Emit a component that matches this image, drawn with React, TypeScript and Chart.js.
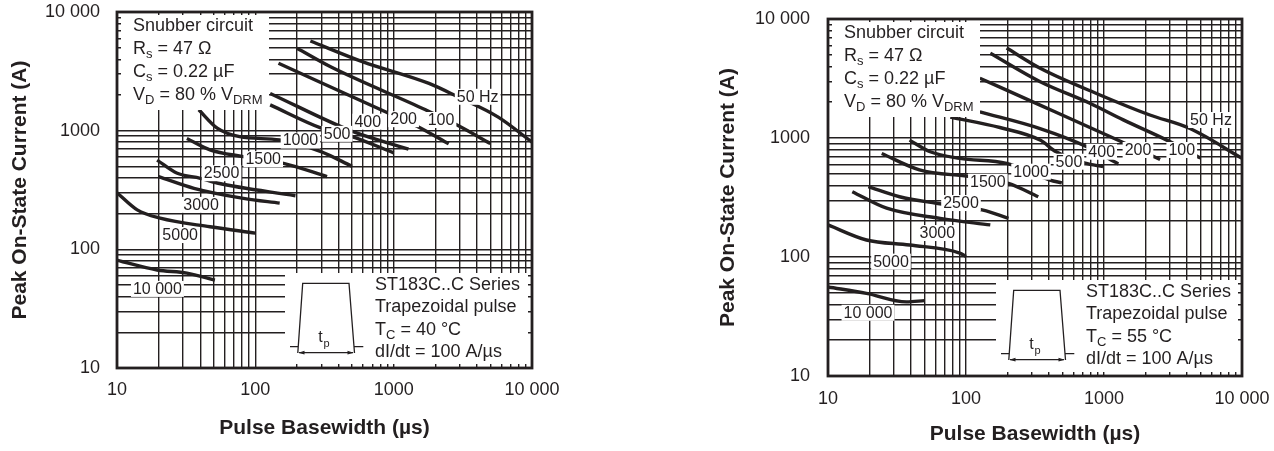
import React, { useEffect, useRef } from 'react';
import { Chart, registerables } from 'chart.js';

Chart.register(...registerables);

const FONT = '"Liberation Sans", Arial, Helvetica, sans-serif';
const INK = '#231f20';
const CANVAS_W = 637;
const CANVAS_H = 451;

// ---- axis ticks (log grid) ----
const gridTickValues = [
  10, 20, 30, 40, 50, 60, 70, 80, 90,
  100, 200, 300, 400, 500, 600, 700, 800, 900,
  1000, 2000, 3000, 4000, 5000, 6000, 7000, 8000, 9000,
  10000,
];
const labelledTickValues = [10, 100, 1000, 10000];
const labelledTickText = ['10', '100', '1000', '10 000'];

// ---- curve names (repetition frequency) ----
const curveNames = ['50 Hz', '100', '200', '400', '500', '1000', '1500', '2500', '3000', '5000', '10 000'];

// ---- TC = 40 °C : [pulse basewidth µs, peak current A] ----
const tc40_f50: [number, number][] = [[250, 5700], [600, 3800], [1800, 2500], [2850, 1950], [5700, 1300], [10000, 800]];
const tc40_f100: [number, number][] = [[200, 4950], [350, 3450], [1700, 1500], [2850, 1120], [5000, 780]];
const tc40_f200: [number, number][] = [[147, 3700], [920, 1400], [1500, 1080], [2500, 775]];
const tc40_f400: [number, number][] = [[128, 2060], [510, 980], [1280, 700]];
const tc40_f500: [number, number][] = [[128, 1650], [300, 1050], [500, 890], [1000, 650]];
const tc40_f1000: [number, number][] = [[39, 1500], [53, 1050], [77, 890], [150, 835], [295, 670], [500, 500]];
const tc40_f1500: [number, number][] = [[32, 860], [47, 690], [82, 605], [160, 530], [330, 410]];
const tc40_f2500: [number, number][] = [[19.5, 565], [27, 440], [40, 397], [53, 362], [195, 283]];
const tc40_f3000: [number, number][] = [[20, 410], [36, 327], [82, 269], [150, 245]];
const tc40_f5000: [number, number][] = [[10, 300], [14, 215], [20.5, 183], [47, 155], [100, 137]];
const tc40_f10000: [number, number][] = [[10, 81], [19.5, 67], [32, 63], [51, 55]];

// label anchors (data coordinates) for TC = 40 °C
const tc40LabelAt: [number, number][] = [
  [4050, 1930], [2200, 1230], [1180, 1250], [650, 1190], [390, 940], [212, 826],
  [114, 575], [57, 438], [40.5, 237], [28.6, 132], [19.6, 46.4],
];

// ---- TC = 55 °C ----
const tc55_f50: [number, number][] = [[197, 5700], [345, 3850], [935, 2300], [2150, 1560], [4200, 1200], [10000, 675]];
const tc55_f100: [number, number][] = [[150, 5150], [345, 2970], [790, 1960], [1380, 1420], [2850, 960], [5000, 680]];
const tc55_f200: [number, number][] = [[126, 3180], [344, 1890], [1340, 930], [2550, 660]];
const tc55_f400: [number, number][] = [[126, 1660], [344, 1200], [750, 845], [1270, 605]];
const tc55_f500: [number, number][] = [[77, 1500], [176, 1225], [344, 960], [450, 765], [730, 615], [985, 575]];
const tc55_f1000: [number, number][] = [[39, 960], [55, 767], [90, 675], [197, 612], [405, 443], [495, 420]];
const tc55_f1500: [number, number][] = [[24.5, 740], [46, 540], [107, 473], [203, 416], [334, 321]];
const tc55_f2500: [number, number][] = [[19.6, 390], [33, 321], [61, 283], [133, 248], [203, 211]];
const tc55_f3000: [number, number][] = [[15, 354], [26.6, 257], [65, 211], [150, 186]];
const tc55_f5000: [number, number][] = [[10, 186], [19, 139], [39, 126], [90, 108], [100, 101]];
const tc55_f10000: [number, number][] = [[10, 56], [19, 49.5], [37, 42], [50, 43]];

const tc55LabelAt: [number, number][] = [
  [5960, 1416], [3660, 793], [1763, 793], [962, 767], [557, 632], [296, 521],
  [144, 430], [92, 284], [62, 159], [28.6, 91.4], [19.5, 34],
];

const tc40Series = [tc40_f50, tc40_f100, tc40_f200, tc40_f400, tc40_f500, tc40_f1000, tc40_f1500, tc40_f2500, tc40_f3000, tc40_f5000, tc40_f10000];
const tc55Series = [tc55_f50, tc55_f100, tc55_f200, tc55_f400, tc55_f500, tc55_f1000, tc55_f1500, tc55_f2500, tc55_f3000, tc55_f5000, tc55_f10000];

type Part = [string, boolean];

function drawRich(ctx: CanvasRenderingContext2D, x: number, y: number, parts: Part[], size = 18, subSize = 13) {
  let cx = x;
  for (const [t, sub] of parts) {
    ctx.font = `${sub ? subSize : size}px ${FONT}`;
    ctx.fillText(t, cx, sub ? y + 5 : y);
    cx += ctx.measureText(t).width;
  }
}

type PanelCfg = {
  series: [number, number][][];
  labelAt: [number, number][];
  tc: string;
  canvasLeft: number;
  area: { left: number; top: number; right: number; bottom: number };
  yTitlePad: number;
  xTitlePad: number;
  xTickPad: number;
  yTickPad: number;
};

const panels: PanelCfg[] = [
  {
    series: tc40Series, labelAt: tc40LabelAt, tc: '40', canvasLeft: 0,
    area: { left: 117, top: 12, right: 532, bottom: 368 },
    yTitlePad: 7.4, xTitlePad: 10.4, xTickPad: 11.2, yTickPad: 17,
  },
  {
    series: tc55Series, labelAt: tc55LabelAt, tc: '55', canvasLeft: 637,
    area: { left: 191, top: 19, right: 605, bottom: 376 },
    yTitlePad: 78.4, xTitlePad: 4.4, xTickPad: 12.2, yTickPad: 18,
  },
];

function tickLabel(v: number): string {
  const i = labelledTickValues.indexOf(Number(v));
  return i >= 0 ? labelledTickText[i] : '';
}

function makeOverlay(cfg: PanelCfg) {
  return {
    id: 'overlay',
    afterDatasetsDraw(chart: any) {
      const { ctx, chartArea: a } = chart;
      const xs = chart.scales.x;
      const ys = chart.scales.y;
      ctx.save();

      // Snubber box
      ctx.fillStyle = '#fff';
      ctx.fillRect(a.left + 4, a.top + 3, 148, 95);
      ctx.fillStyle = INK;
      ctx.textBaseline = 'middle';
      ctx.textAlign = 'left';
      const tx = a.left + 16;
      drawRich(ctx, tx, a.top + 14, [['Snubber circuit', false]]);
      drawRich(ctx, tx, a.top + 37, [['R', false], ['s', true], [' = 47 Ω', false]]);
      drawRich(ctx, tx, a.top + 60, [['C', false], ['s', true], [' = 0.22 µF', false]]);
      drawRich(ctx, tx, a.top + 83, [['V', false], ['D', true], [' = 80 % V', false], ['DRM', true]]);

      // Series / conditions box
      const bx = a.left + 168;
      const by = a.top + 261;
      ctx.fillStyle = '#fff';
      ctx.fillRect(bx, by, a.right - 4 - bx, a.bottom - 4 - by);
      ctx.fillStyle = INK;
      const sx = a.left + 258;
      drawRich(ctx, sx, a.top + 273, [['ST183C..C Series', false]]);
      drawRich(ctx, sx, a.top + 295, [['Trapezoidal pulse', false]]);
      drawRich(ctx, sx, a.top + 318, [['T', false], ['C', true], [` = ${cfg.tc} °C`, false]]);
      drawRich(ctx, sx, a.top + 340, [['dI/dt = 100 A/µs', false]]);

      // trapezoid pulse sketch
      const L = a.left, T = a.top;
      ctx.strokeStyle = INK;
      ctx.lineWidth = 1.3;
      ctx.beginPath();
      ctx.moveTo(L + 180.8, T + 341);
      ctx.lineTo(L + 185.7, T + 271.3);
      ctx.lineTo(L + 232, T + 271.3);
      ctx.lineTo(L + 237.5, T + 341);
      ctx.moveTo(L + 173, T + 334.7);
      ctx.lineTo(L + 181.3, T + 334.7);
      ctx.moveTo(L + 237, T + 334.7);
      ctx.lineTo(L + 246.3, T + 334.7);
      ctx.moveTo(L + 182, T + 340.7);
      ctx.lineTo(L + 236, T + 340.7);
      ctx.stroke();
      ctx.fillStyle = INK;
      ctx.beginPath();
      ctx.moveTo(L + 181.5, T + 340.7);
      ctx.lineTo(L + 187.5, T + 338.8);
      ctx.lineTo(L + 187.5, T + 342.6);
      ctx.closePath();
      ctx.moveTo(L + 236.5, T + 340.7);
      ctx.lineTo(L + 230.5, T + 338.8);
      ctx.lineTo(L + 230.5, T + 342.6);
      ctx.closePath();
      ctx.fill();
      ctx.textAlign = 'center';
      ctx.font = `16px ${FONT}`;
      ctx.fillText('t', L + 203.5, T + 326);
      ctx.font = `11px ${FONT}`;
      ctx.fillText('p', L + 209.5, T + 332);

      // curve labels
      ctx.font = `16px ${FONT}`;
      ctx.textAlign = 'center';
      ctx.textBaseline = 'middle';
      cfg.labelAt.forEach(([vx, vy], i) => {
        const px = xs.getPixelForValue(vx);
        const py = ys.getPixelForValue(vy);
        const w = ctx.measureText(curveNames[i]).width;
        ctx.fillStyle = '#fff';
        ctx.fillRect(px - w / 2 - 2, py - 8, w + 4, 16);
        ctx.fillStyle = INK;
        ctx.fillText(curveNames[i], px, py + 0.5);
      });

      // frame
      ctx.strokeStyle = INK;
      ctx.lineWidth = 2.8;
      ctx.strokeRect(a.left, a.top, a.right - a.left, a.bottom - a.top);
      ctx.restore();
    },
  };
}

function zeroPadding(s: any) {
  s.paddingTop = 0;
  s.paddingBottom = 0;
  s.paddingLeft = 0;
  s.paddingRight = 0;
}

function Panel({ cfg }: { cfg: PanelCfg }) {
  const ref = useRef<HTMLCanvasElement>(null);
  useEffect(() => {
    const canvas = ref.current;
    if (!canvas) return;
    const datasets = cfg.series.map((pts, i) => ({
      label: curveNames[i],
      data: pts.map(([x, y]) => ({ x, y })),
      borderColor: INK,
      backgroundColor: INK,
      borderWidth: 3.4,
      pointRadius: 0,
      fill: false,
      cubicInterpolationMode: 'monotone' as const,
    }));
    const tickFont = { family: FONT, size: 18 };
    const titleFont = { family: FONT, size: 21, weight: 'bold' as const };
    const chart = new Chart(canvas, {
      type: 'line',
      data: { datasets },
      options: {
        animation: false,
        responsive: true,
        maintainAspectRatio: false,
        layout: { padding: { left: 0, top: cfg.area.top, right: CANVAS_W - cfg.area.right, bottom: 0 } },
        plugins: { legend: { display: false }, tooltip: { enabled: false } },
        scales: {
          x: {
            type: 'logarithmic',
            position: 'bottom',
            min: 10,
            max: 10000,
            afterBuildTicks: (s: any) => { s.ticks = gridTickValues.map((v) => ({ value: v })); },
            afterFit: (s: any) => { s.height = CANVAS_H - cfg.area.bottom; zeroPadding(s); },
            grid: { color: INK, lineWidth: 1.4, drawTicks: false },
            border: { display: false },
            ticks: {
              autoSkip: false, maxRotation: 0, minRotation: 0, padding: cfg.xTickPad,
              color: INK, font: tickFont, callback: (v: any) => tickLabel(v),
            },
            title: {
              display: true, text: 'Pulse Basewidth (µs)', color: INK, font: titleFont,
              padding: { top: 0, bottom: cfg.xTitlePad },
            },
          },
          y: {
            type: 'logarithmic',
            position: 'left',
            min: 10,
            max: 10000,
            afterBuildTicks: (s: any) => { s.ticks = gridTickValues.map((v) => ({ value: v })); },
            afterFit: (s: any) => { s.width = cfg.area.left; zeroPadding(s); },
            grid: { color: INK, lineWidth: 1.4, drawTicks: false },
            border: { display: false },
            ticks: {
              autoSkip: false, padding: cfg.yTickPad,
              color: INK, font: tickFont, callback: (v: any) => tickLabel(v),
            },
            title: {
              display: true, text: 'Peak On-State Current (A)', color: INK, font: titleFont,
              padding: { top: cfg.yTitlePad, bottom: 0 },
            },
          },
        },
      } as any,
      plugins: [makeOverlay(cfg)],
    });
    return () => chart.destroy();
  }, [cfg]);
  return (
    <div style={{ position: 'absolute', left: cfg.canvasLeft, top: 0, width: CANVAS_W, height: CANVAS_H }}>
      <canvas ref={ref} />
    </div>
  );
}

export default function App() {
  return (
    <div style={{ position: 'absolute', left: 0, top: 0, width: 1274, height: 451, background: '#fff', overflow: 'hidden' }}>
      {panels.map((p, i) => (
        <Panel key={i} cfg={p} />
      ))}
    </div>
  );
}
